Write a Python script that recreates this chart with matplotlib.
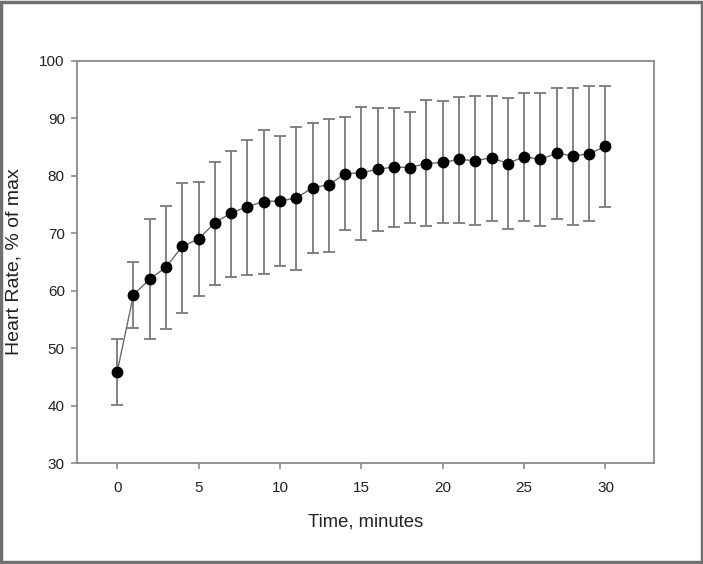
import matplotlib
matplotlib.use("Agg")
import matplotlib.pyplot as plt
from matplotlib.patches import Rectangle

# Data
time_min = list(range(0, 31))
hr_mean = [45.9, 59.3, 62.0, 64.1, 67.7, 69.0, 71.8, 73.5, 74.6, 75.5,
           75.6, 76.1, 77.9, 78.4, 80.3, 80.5, 81.1, 81.5, 81.4, 82.1,
           82.3, 82.8, 82.6, 83.1, 82.1, 83.3, 82.8, 83.9, 83.4, 83.8, 85.1]
hr_upper = [51.6, 65.0, 72.4, 74.7, 78.8, 78.9, 82.3, 84.3, 86.2, 87.9,
            86.8, 88.4, 89.2, 89.8, 90.1, 92.0, 91.7, 91.7, 91.0, 93.1,
            92.9, 93.7, 93.9, 93.9, 93.5, 94.3, 94.3, 95.2, 95.3, 95.6, 95.6]
hr_lower = [40.1, 53.6, 51.6, 53.4, 56.2, 59.0, 61.0, 62.4, 62.7, 62.9,
            64.3, 63.6, 66.5, 66.7, 70.5, 68.8, 70.3, 71.1, 71.7, 71.3,
            71.7, 71.7, 71.4, 72.1, 70.7, 72.1, 71.3, 72.4, 71.4, 72.1, 74.6]
x_ticks = [0, 5, 10, 15, 20, 25, 30]
y_ticks = [30, 40, 50, 60, 70, 80, 90, 100]

plt.rcParams['font.family'] = ['Liberation Sans', 'DejaVu Sans']

fig = plt.figure(figsize=(7.03, 5.64), dpi=100)
ax = fig.add_axes([0.110, 0.1785, 0.820, 0.7142])

err_lo = [m - l for m, l in zip(hr_mean, hr_lower)]
err_hi = [u - m for m, u in zip(hr_mean, hr_upper)]

ax.errorbar(time_min, hr_mean, yerr=[err_lo, err_hi], fmt='none',
            ecolor='#7a7a7a', elinewidth=1.3, capsize=4.5, capthick=1.3, zorder=2)
ax.plot(time_min, hr_mean, color='#6a6a6a', linewidth=1.0, zorder=3)
ax.plot(time_min, hr_mean, 'o', color='black', markersize=7.5, zorder=4)

ax.set_xlim(-2.45, 32.97)
ax.set_ylim(30, 100)
ax.set_xticks(x_ticks)
ax.set_yticks(y_ticks)

for s in ax.spines.values():
    s.set_color('#8a8a8a')
    s.set_linewidth(1.3)

ax.tick_params(axis='both', direction='out', length=4, width=1.2,
               color='#8a8a8a', labelcolor='#222222', labelsize=11)
ax.tick_params(axis='x', pad=9)
ax.tick_params(axis='y', pad=5)

ax.set_xlabel('Time, minutes', fontsize=13.3, color='#222222')
ax.set_ylabel('Heart Rate, % of max', fontsize=14, color='#222222')
ax.xaxis.set_label_coords(0.5, -0.125)
ax.yaxis.set_label_coords(-0.095, 0.5)

fig.patches.append(Rectangle((0.002, 0.003), 0.996, 0.994, transform=fig.transFigure,
                             fill=False, edgecolor='#707070', linewidth=2.5))

fig.savefig('out.png', dpi=100)
